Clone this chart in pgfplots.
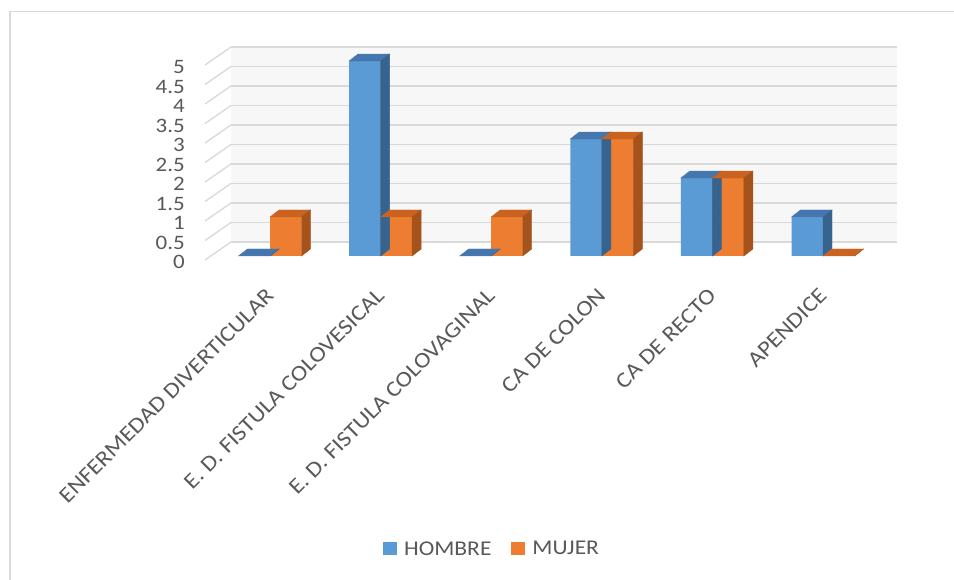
\documentclass[border=0pt]{standalone}
\usepackage{pgfplots}
\usepackage{pgfplotstable}
\pgfplotsset{compat=1.18}
\usepackage{fontspec}
\setmainfont{Carlito}[FakeStretch=1.12]
\definecolor{txt}{HTML}{595959}
\definecolor{frame}{HTML}{D9D9D9}
\definecolor{gridc}{HTML}{D9D9D9}
\definecolor{wall}{HTML}{F7F7F7}
\definecolor{blueF}{HTML}{5B9BD5}
\definecolor{blueT}{HTML}{4576AD}
\definecolor{blueS}{HTML}{36648F}
\definecolor{orangeF}{HTML}{ED7D31}
\definecolor{orangeT}{HTML}{C9631F}
\definecolor{orangeS}{HTML}{A5521B}
\pgfdeclareplotmark{empty3d}{}
\pgfplotstableread{
x hombre mujer
0 0 1
1 5 1
2 0 1
3 3 3
4 2 2
5 1 0
}\datatable
\begin{document}
\begin{tikzpicture}
\useasboundingbox (0bp,0bp) rectangle (954bp,580bp);
\fill[white] (0bp,0bp) rectangle (954bp,580bp);
\draw[color=frame, line width=1.5bp] (9.75bp,0bp) -- (9.75bp,568.25bp) -- (954bp,568.25bp);
% back wall with grid
\begin{axis}[
  at={(231bp,338bp)}, anchor=south west,
  scale only axis, width=666bp, height=195bp,
  xmin=0, xmax=1, ymin=0, ymax=5,
  clip=false,
  axis line style={draw=none},
  axis background/.style={fill=wall},
  xtick=\empty,
  ytick={0,0.5,...,5},
  major tick length=0pt,
  ymajorgrids,
  grid style={color=gridc, line width=1.3bp},
  /pgf/number format/assume math mode=true,
  yticklabel style={inner sep=0pt, anchor=east, xshift=-46bp, yshift=-20bp,
     font=\fontsize{20.5bp}{24bp}\selectfont, text=txt},
]
\pgfplotsinvokeforeach{0,0.5,...,5}{
  \draw[color=gridc, line width=1.3bp] (axis cs:0,#1) -- ++(-26bp,-18bp);
}
\end{axis}
% bars
\begin{axis}[
  at={(205bp,324bp)}, anchor=south west,
  scale only axis, width=666bp, height=195bp,
  xmin=-0.5877, xmax=5.434, ymin=0, ymax=5,
  clip=false,
  axis line style={draw=none},
  ytick=\empty,
  xtick={0,...,5},
  xticklabels={ENFERMEDAD DIVERTICULAR, E. D. FISTULA COLOVESICAL, E. D. FISTULA COLOVAGINAL, CA DE COLON, CA DE RECTO, APENDICE},
  major tick length=0pt,
  xticklabel style={inner sep=0pt, yshift=-36bp, rotate=45, anchor=east,
     font=\fontsize{22bp}{24bp}\selectfont, text=txt},
  legend style={at={(axis description cs:0.431,-1.5026)}, anchor=center,
     draw=none, fill=none, legend columns=2,
     font=\fontsize{21bp}{24bp}\selectfont, text=txt,
     /tikz/every even column/.append style={column sep=18bp}},
  legend image code/.code={\path (0bp,0bp) (19bp,0bp);\fill[#1] (0bp,-6.5bp) rectangle (13.5bp,6.5bp);},
]
\addplot[forget plot, scatter, only marks, mark=empty3d,
  visualization depends on={rawy\as\ry},
  scatter/@pre marker code/.code={%
    \pgfmathsetmacro\Hb{7-\ry*39}%
    \fill[blueT] (-31.5bp,0bp) -- (-22.5bp,7bp) -- (9bp,7bp) -- (0bp,0bp) -- cycle;
    \fill[blueS] (0bp,0bp) -- (9bp,7bp) -- (9bp,\Hb bp) -- (0bp,{-\ry*39bp}) -- cycle;
  },
  scatter/@post marker code/.code={},
] table[x=x,y=hombre]{\datatable};
\addplot[ybar, bar width=31.5bp, bar shift=-15.75bp, fill=blueF, draw=none]
  table[x=x,y=hombre]{\datatable};
\addlegendentry{HOMBRE}
\addplot[forget plot, scatter, only marks, mark=empty3d,
  visualization depends on={rawy\as\ry},
  scatter/@pre marker code/.code={%
    \pgfmathsetmacro\Hb{7-\ry*39}%
    \fill[orangeT] (0bp,0bp) -- (9bp,7bp) -- (40.5bp,7bp) -- (31.5bp,0bp) -- cycle;
    \fill[orangeS] (31.5bp,0bp) -- (40.5bp,7bp) -- (40.5bp,\Hb bp) -- (31.5bp,{-\ry*39bp}) -- cycle;
  },
  scatter/@post marker code/.code={},
] table[x=x,y=mujer]{\datatable};
\addplot[ybar, bar width=31.5bp, bar shift=15.75bp, fill=orangeF, draw=none]
  table[x=x,y=mujer]{\datatable};
\addlegendentry{MUJER}
\end{axis}
\end{tikzpicture}
\end{document}
